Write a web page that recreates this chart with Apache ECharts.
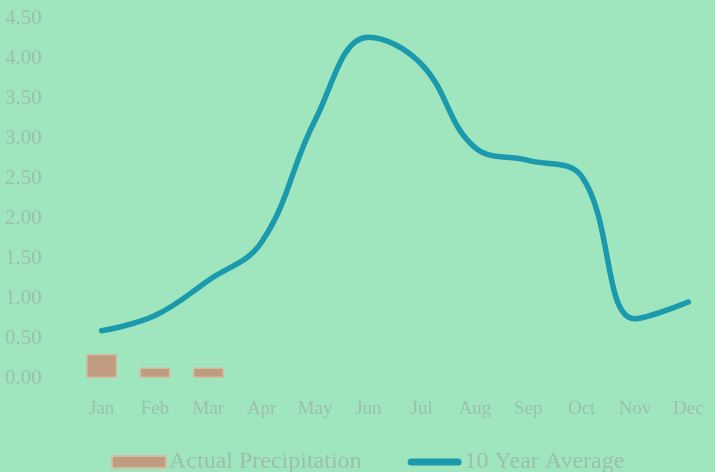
<!DOCTYPE html>
<html>
<head>
<meta charset="utf-8">
<script src="https://cdn.jsdelivr.net/npm/echarts@6/dist/echarts.min.js"></script>
<style>
  html, body { margin: 0; padding: 0; background: #9fe6bf; }
  #chart { width: 715px; height: 472px; }
</style>
</head>
<body>
<div id="chart"></div>
<script>
// Monthly precipitation (inches)
const months = ['Jan', 'Feb', 'Mar', 'Apr', 'May', 'Jun', 'Jul', 'Aug', 'Sep', 'Oct', 'Nov', 'Dec'];
const actualPrecipitation = [0.30, 0.13, 0.13, null, null, null, null, null, null, null, null, null];
const tenYearAverage = [0.59, 0.78, 1.22, 1.70, 3.22, 4.26, 3.92, 2.88, 2.72, 2.52, 0.74, 0.95];
const yTicks = { min: 0, max: 4.5, interval: 0.5 };

const textColor = '#9cbfad';
const lineColor = '#1c9aad';
const fontFamily = "'Liberation Serif', 'DejaVu Serif', serif";

const chart = echarts.init(document.getElementById('chart'));
chart.setOption({
  backgroundColor: '#9fe6bf',
  animation: false,
  textStyle: { fontFamily: fontFamily },
  grid: { left: 75, right: -5, top: 18, bottom: 94, containLabel: false },
  legend: {
    left: 106,
    top: 445,
    itemWidth: 54,
    itemHeight: 12,
    itemGap: 46,
    textStyle: { color: textColor, fontSize: 24, fontFamily: fontFamily, padding: [0, 0, 0, -2] },
    data: [
      { name: 'Actual Precipitation', icon: 'rect' },
      {
        name: '10 Year Average',
        icon: 'path://M3.5,0 H50.5 A3.5,3.5 0 0 1 50.5,7 H3.5 A3.5,3.5 0 0 1 3.5,0 Z',
        itemStyle: { color: lineColor, borderWidth: 0 }
      }
    ]
  },
  xAxis: {
    type: 'category',
    data: months,
    boundaryGap: true,
    axisLine: { show: false },
    axisTick: { show: false },
    axisLabel: { color: textColor, fontSize: 19, margin: 22, fontFamily: fontFamily }
  },
  yAxis: {
    type: 'value',
    min: yTicks.min,
    max: yTicks.max,
    interval: yTicks.interval,
    splitLine: { show: false },
    axisLine: { show: false },
    axisTick: { show: false },
    axisLabel: {
      color: textColor,
      fontSize: 21,
      fontFamily: fontFamily,
      align: 'left',
      margin: 70,
      padding: [4, 0, 0, 0],
      formatter: v => v.toFixed(2)
    }
  },
  series: [
    {
      name: 'Actual Precipitation',
      type: 'bar',
      data: actualPrecipitation,
      barWidth: 31,
      itemStyle: { color: '#bf9c80', borderColor: '#d3bca2', borderWidth: 1.5 }
    },
    {
      name: '10 Year Average',
      type: 'line',
      data: tenYearAverage,
      smooth: 0.4,
      showSymbol: false,
      symbol: 'none',
      lineStyle: { color: lineColor, width: 5.5, cap: 'round' },
      itemStyle: { color: lineColor }
    }
  ]
});
</script>
</body>
</html>
